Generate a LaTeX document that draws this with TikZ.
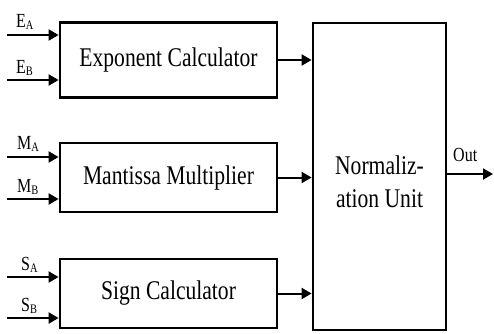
\documentclass[tikz,border=0pt]{standalone}
\usepackage{fontspec}
\setmainfont[FakeStretch=0.8]{Liberation Serif}
\usetikzlibrary{arrows.meta}
\newcommand\lblsub[2]{#1\raisebox{-0.3ex}{\fontsize{13}{13}\selectfont #2}}
\begin{document}
\begin{tikzpicture}[x=1pt,y=-1pt,
  blk/.style={draw,line width=2.8pt,align=center,inner sep=0pt,font=\fontsize{27}{33}\selectfont},
  txt/.style={align=center,inner sep=0pt,font=\fontsize{27}{33}\selectfont},
  arr/.style={line width=2pt,-{Triangle[length=10pt,width=11pt]}},
  lbl/.style={inner sep=0pt,anchor=base west,font=\fontsize{20}{20}\selectfont}]
\useasboundingbox (0,0) rectangle (494,333);
\node[blk,minimum width=217,minimum height=75] (exp) at (168.5,60) {Exponent Calculator};
\node[blk,minimum width=217,minimum height=69] (man) at (168.5,177.5) {Mantissa Multiplier};
\node[blk,minimum width=217,minimum height=69] (sgn) at (168.5,293.5) {Sign Calculator};
\node[blk,minimum width=133,minimum height=307] (nrm) at (379.5,176.5) {};
\node[txt] (nrmtext) at (379.5,182) {Normaliz-\\ation Unit};
\coordinate (ea) at (7,35);
\coordinate (eb) at (7,80);
\coordinate (ma) at (7,157);
\coordinate (mb) at (7,199);
\coordinate (sa) at (7,277);
\coordinate (sb) at (7,318);
\draw[arr] (ea) -- (ea -| exp.west);
\draw[arr] (eb) -- (eb -| exp.west);
\draw[arr] (ma) -- (ma -| man.west);
\draw[arr] (mb) -- (mb -| man.west);
\draw[arr] (sa) -- (sa -| sgn.west);
\draw[arr] (sb) -- (sb -| sgn.west);
\node[lbl] (lea) at (16,27) {\lblsub{E}{A}};
\node[lbl] (leb) at (16,73) {\lblsub{E}{B}};
\node[lbl] (lma) at (17,149) {\lblsub{M}{A}};
\node[lbl] (lmb) at (17,192) {\lblsub{M}{B}};
\node[lbl] (lsa) at (21,270) {\lblsub{S}{A}};
\node[lbl] (lsb) at (21,311) {\lblsub{S}{B}};
\draw[arr] (exp.east) -- (exp.east -| nrm.west);
\draw[arr] (man.east) -- (man.east -| nrm.west);
\draw[arr] (sgn.east) -- (sgn.east -| nrm.west);
\coordinate (o) at (493,174);
\draw[arr] (o -| nrm.east) -- (o);
\node[lbl] (lout) at (453,161) {Out};
\end{tikzpicture}
\end{document}
